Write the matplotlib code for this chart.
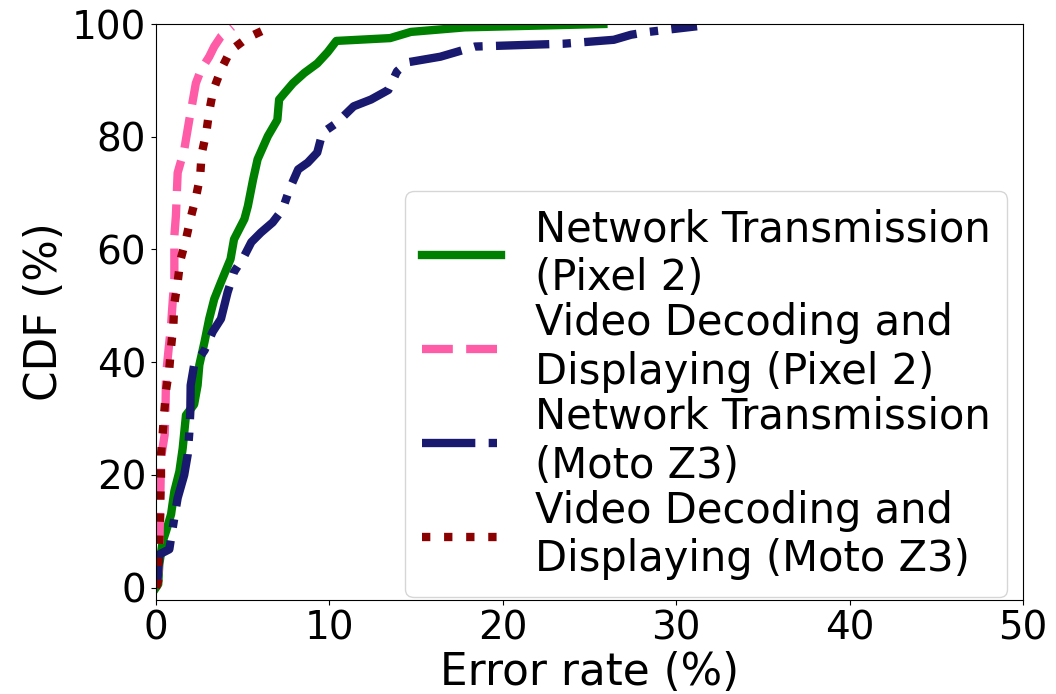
import matplotlib
matplotlib.use("Agg")
import matplotlib.pyplot as plt

# error rate (%) vs CDF (%) for each measurement
net_pixel2_x = [0.0, 0.13, 0.19, 0.39, 0.58, 0.87, 1.06, 1.35, 1.54, 1.73, 2.2, 2.4, 2.5,
                2.8, 3.07, 3.36, 3.75, 4.3, 4.5, 5.1, 5.3, 5.6, 5.86, 6.45, 7.0, 7.1, 7.4,
                7.9, 8.55, 9.3, 9.9, 10.4, 13.5, 14.7, 17.8, 25.8]
net_pixel2_y = [0.0, 0.6, 4.1, 8.2, 10.0, 13.0, 17.1, 20.6, 24.7, 30.6, 32.5, 35.9, 39.5,
                43.6, 47.7, 51.2, 54.2, 58.3, 61.8, 65.4, 67.7, 72.4, 76.0, 80.1, 83.0, 86.6, 87.7,
                89.5, 91.3, 93.0, 95.0, 97.0, 97.5, 98.6, 99.4, 100.0]

vid_pixel2_x = [0.0, 0.15, 0.2, 0.25, 0.29, 0.5, 0.55, 0.58, 0.77, 0.87, 0.96, 1.06, 1.06,
                1.15, 1.25, 1.63, 1.92, 2.1, 2.3, 2.6, 3.07, 3.36, 3.75, 4.4]
vid_pixel2_y = [0.0, 3.0, 8.2, 15.9, 23.0, 27.1, 31.8, 37.7, 43.6, 46.5, 50.6, 54.8, 62.4,
                66.0, 73.6, 77.7, 83.0, 86.0, 89.5, 91.9, 94.2, 96.0, 97.8, 99.5]

net_moto_x = [0.0, 0.1, 0.2, 0.77, 0.87, 1.06, 1.25, 1.63, 1.83, 1.92, 1.98, 2.0, 2.2, 2.8,
              3.27, 3.75, 4.13, 4.5, 5.1, 5.5, 6.05, 6.73, 7.3, 7.7, 8.2, 8.75, 9.3, 9.6,
              10.4, 11.4, 12.4, 13.4, 13.9, 14.5, 16.4, 17.4, 18.4, 21.4, 23.5, 26.4, 27.4,
              28.4, 31.2]
net_moto_y = [0.0, 1.8, 5.9, 6.8, 8.8, 12.4, 15.9, 20.0, 23.6, 27.4, 31.2, 35.9, 39.5, 42.1,
              45.4, 47.7, 52.4, 56.0, 58.9, 61.3, 63.0, 64.8, 67.1, 70.7, 74.2, 75.4, 77.2, 80.7,
              82.4, 85.4, 86.6, 88.3, 91.6, 93.2, 94.2, 95.1, 96.0, 96.3, 96.5, 97.2, 98.1,
              98.6, 99.6]

vid_moto_x = [0.0, 0.13, 0.13, 0.19, 0.25, 0.25, 0.29, 0.29, 0.39, 0.48, 0.58, 0.77, 0.87,
              1.0, 1.06, 1.25, 1.4, 1.73, 2.0, 2.3, 2.55, 2.63, 2.9, 3.07, 3.3, 3.75, 4.3,
              5.3, 6.35, 6.7]
vid_moto_y = [0.0, 1.2, 4.5, 8.2, 13.6, 15.9, 19.7, 23.6, 27.4, 31.2, 35.0, 38.9, 42.7,
              46.5, 50.4, 54.2, 58.0, 61.8, 65.6, 69.2, 73.0, 76.9, 80.7, 84.5, 88.2, 91.9, 95.3,
              97.6, 99.1, 100.0]

labels = ["Network Transmission\n(Pixel 2)",
          "Video Decoding and\nDisplaying (Pixel 2)",
          "Network Transmission\n(Moto Z3)",
          "Video Decoding and\nDisplaying (Moto Z3)"]

fig = plt.figure(figsize=(10.56, 6.94), dpi=100)
ax = fig.add_axes([0.1477, 0.1354, 0.8211, 0.83])

ax.plot(net_pixel2_x, net_pixel2_y, color="green", lw=6, ls="-", label=labels[0])
ax.plot(vid_pixel2_x, vid_pixel2_y, color="#ff5ca8", lw=6, ls="--", label=labels[1])
ax.plot(net_moto_x, net_moto_y, color="midnightblue", lw=6, ls="-.", label=labels[2])
ax.plot(vid_moto_x, vid_moto_y, color="darkred", lw=6, ls=":", label=labels[3])

ax.set_xlim(0, 50)
ax.set_ylim(-2.2, 100)
ax.set_xticks([0, 10, 20, 30, 40, 50])
ax.set_yticks([0, 20, 40, 60, 80, 100])
ax.tick_params(labelsize=28)
ax.set_xlabel("Error rate (%)", fontsize=31.5, labelpad=2)
ax.set_ylabel("CDF (%)", fontsize=31.5)

ax.legend(loc="lower right", bbox_to_anchor=(0.9815, 0.005), borderaxespad=0,
          fontsize=30, handlelength=1.9, labelspacing=0.08)

fig.savefig("out.png", dpi=100)
